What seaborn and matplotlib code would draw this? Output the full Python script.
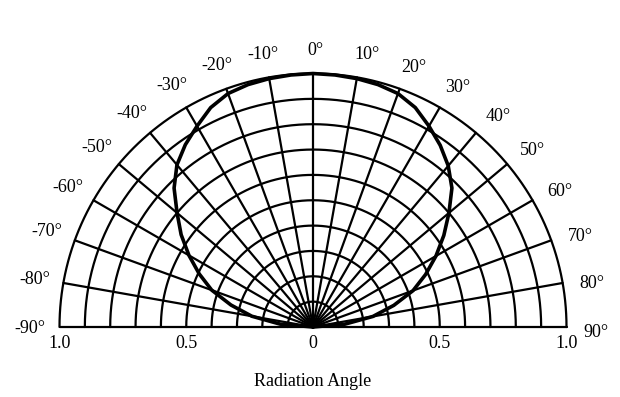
import numpy as np
import pandas as pd
import matplotlib
matplotlib.use("Agg")
import matplotlib.pyplot as plt
import seaborn as sns

# radiation pattern (degrees, relative intensity)
angles = [-90, -85, -80, -75, -70, -65, -60, -55, -50, -45, -40, -35, -30, -25, -20, -15, -10, -5,
          0, 5, 10, 15, 20, 25, 30, 35, 40, 45, 50, 55, 60, 65, 70, 75, 80, 85, 90]
intensity = [0.0, 0.13, 0.245, 0.335, 0.425, 0.495, 0.565, 0.635, 0.70, 0.775, 0.835, 0.878, 0.915, 0.955, 0.98, 0.99, 0.995, 0.998,
             1.0, 0.998, 0.995, 0.99, 0.98, 0.955, 0.915, 0.875, 0.83, 0.775, 0.70, 0.63, 0.56, 0.49, 0.42, 0.33, 0.24, 0.125, 0.0]

ring_radii = [0.1, 0.2, 0.3, 0.4, 0.5, 0.6, 0.7, 0.8, 0.9, 1.0]
spoke_angles = list(range(-90, 91, 10))
angle_labels = [f"{a}\u00b0" for a in spoke_angles]
x_ticks = [-1.0, -0.5, 0.0, 0.5, 1.0]
x_ticklabels = ["1.0", "0.5", "0", "0.5", "1.0"]

sns.set_style("white")
plt.rcParams['font.family'] = ['Liberation Serif', 'DejaVu Serif']
plt.rcParams['text.color'] = 'black'
plt.rcParams['axes.labelcolor'] = 'black'
plt.rcParams['xtick.color'] = 'black'

fig = plt.figure(figsize=(6.2, 3.97), dpi=100)
ax = fig.add_axes([59.5 / 620, 70 / 397, 507 / 620, 253.5 / 397])
ax.set_xlim(-1, 1)
ax.set_ylim(0, 1)

# grid: half circles and spokes
t = np.radians(np.linspace(-90, 90, 361))
for r in ring_radii:
    ax.plot(r * np.sin(t), r * np.cos(t), color="black", lw=1.6, clip_on=False, zorder=1)
for a in spoke_angles:
    th = np.radians(a)
    ax.plot([0, np.sin(th)], [0, np.cos(th)], color="black", lw=1.6, clip_on=False, zorder=1)

# pattern curve
df = pd.DataFrame({"angle": angles, "intensity": intensity})
df["x"] = df["intensity"] * np.sin(np.radians(df["angle"]))
df["y"] = df["intensity"] * np.cos(np.radians(df["angle"]))
sns.lineplot(data=df, x="x", y="y", sort=False, estimator=None, color="black",
             lw=2.6, ax=ax, zorder=3)
for line in ax.lines:
    line.set_clip_on(False)

# angle labels round the outside
for a, lab in zip(spoke_angles, angle_labels):
    off = 1.2 if a > 0 else (-0.3 if a < 0 else 0.6)
    rr = 1.09 + 0.025 * abs(np.sin(np.radians(a)))
    th = np.radians(a + off)
    ax.text(rr * np.sin(th), rr * np.cos(th), lab, ha="center", va="center",
            fontsize=13, color="black", clip_on=False)

for s in ax.spines.values():
    s.set_visible(False)
ax.set_xticks(x_ticks)
ax.set_xticklabels(x_ticklabels, fontsize=13)
ax.set_yticks([])
ax.tick_params(axis="x", length=0, pad=6, labelcolor="black")
ax.set_xlabel("Radiation Angle", fontsize=13, labelpad=15, color="black")
ax.set_ylabel("")

fig.savefig("out.png", dpi=100)
